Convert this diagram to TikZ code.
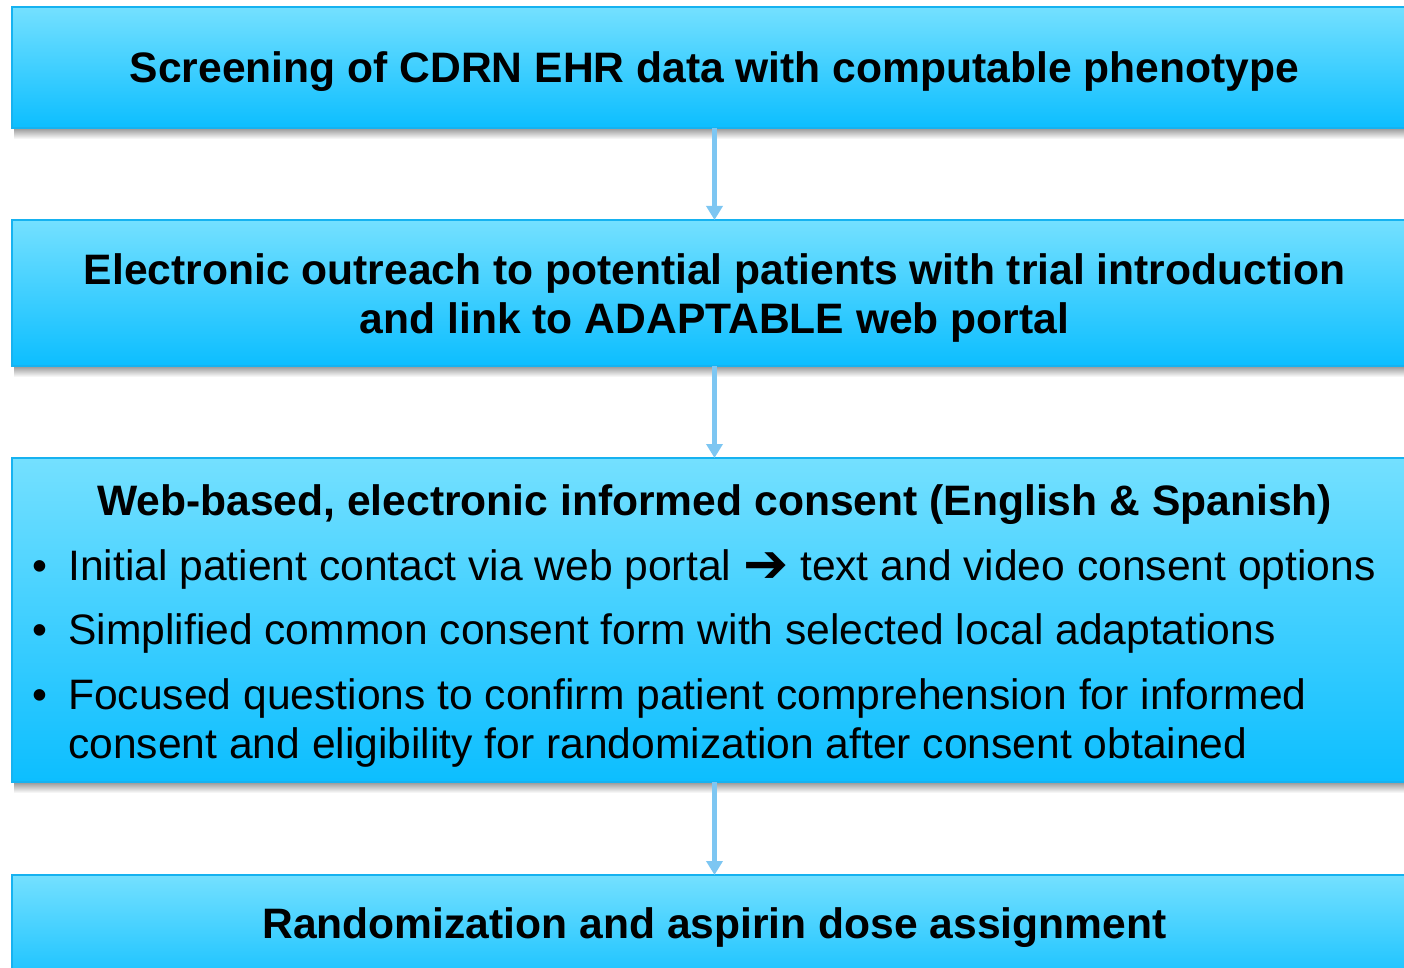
\documentclass[tikz,border=0pt]{standalone}
\usepackage{fontspec}
\setmainfont{Liberation Sans}
\newfontfamily\symfont{DejaVu Sans}
\usetikzlibrary{arrows.meta}
\definecolor{boxtop}{RGB}{116,224,255}
\definecolor{boxbot}{RGB}{12,190,255}
\definecolor{boxedge}{RGB}{22,178,240}
\definecolor{flowc}{RGB}{125,198,242}
\definecolor{shadowc}{RGB}{150,150,150}
\begin{document}
\begin{tikzpicture}[x=1pt,y=-1pt,
  box/.style={draw=boxedge, line width=1.2pt, top color=boxtop, bottom color=boxbot,
    minimum width=1405pt, anchor=north west, inner sep=0pt, outer sep=0pt},
  flow/.style={draw=flowc, line width=5.5pt, -{Triangle[length=14pt,width=16pt]}},
  headtext/.style={font=\bfseries\fontsize{42.6}{49}\selectfont, align=center, inner sep=0pt},
  bodytext/.style={font=\fontsize{42.6}{49}\selectfont, inner sep=0pt, anchor=base west},
  bulletmark/.style={font=\fontsize{42.6}{49}\selectfont, inner sep=0pt, anchor=base}]
\useasboundingbox (0,0) rectangle (1404,968);
\clip (0,0) rectangle (1404,968);

% drop shadows under the boxes
\foreach \yb in {128,366,782}{
  \shade[top color=shadowc, bottom color=white] (14,\yb) rectangle (1420,\yb+11);
}

% the four stages
\node[box, minimum height=121pt] (b1) at (12,7) {};
\node[box, minimum height=146pt] (b2) at (12,220) {};
\node[box, minimum height=324pt] (b3) at (12,458) {};
\node[box, minimum height=120pt] (b4) at (12,875) {};

% connectors
\draw[flow] (b1.south) -- (b2.north);
\draw[flow] (b2.south) -- (b3.north);
\draw[flow] (b3.south) -- (b4.north);

% texts
\node[headtext] (t1) at (714.5,72) {Screening of CDRN EHR data with computable phenotype};
\node[headtext] (t2) at (714.5,298) {Electronic outreach to potential patients with trial introduction\\and link to ADAPTABLE web portal};
\node[headtext] (t3) at (714.5,505) {Web-based, electronic informed consent (English \& Spanish)};

\node[bulletmark] (m1) at (40,580) {•};
\node[bulletmark] (m2) at (40,644) {•};
\node[bulletmark] (m3) at (40,709) {•};
\node[bodytext] (l1) at (68,580) {Initial patient contact via web portal {\symfont\fontsize{54}{49}\selectfont\raisebox{-2pt}{➔}} text and video consent options};
\node[bodytext] (l2) at (68,644) {Simplified common consent form with selected local adaptations};
\node[bodytext] (l3a) at (68,709) {Focused questions to confirm patient comprehension for informed};
\node[bodytext] (l3b) at (68,758) {consent and eligibility for randomization after consent obtained};

\node[headtext] (t4) at (714.5,928) {Randomization and aspirin dose assignment};
\end{tikzpicture}
\end{document}
